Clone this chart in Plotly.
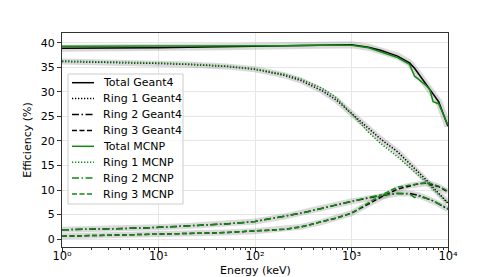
import plotly.graph_objects as go

# ---- data ----
e_total_g4 = [1, 2, 5, 10, 20, 50, 100, 200, 500, 1000, 1500, 2000, 3000, 4000, 4500, 5000, 6000, 7000, 8000, 10000]
total_g4 = [38.9, 38.9, 39.0, 39.0, 39.1, 39.2, 39.3, 39.3, 39.4, 39.6, 39.1, 38.5, 37.3, 35.9, 34.8, 33.5, 31.3, 29.6, 28.0, 23.0]

e_total_mcnp = [1, 2, 5, 10, 20, 50, 100, 200, 500, 1000, 1500, 2000, 3000, 4000, 4500, 5000, 6000, 6500, 7000, 8000, 10000]
total_mcnp = [39.3, 39.3, 39.3, 39.3, 39.3, 39.3, 39.4, 39.4, 39.5, 39.5, 39.0, 38.2, 37.0, 35.6, 33.2, 32.5, 31.2, 30.4, 28.0, 27.6, 23.2]

e_ring = [1, 2, 5, 10, 20, 50, 100, 200, 300, 500, 700, 1000, 1500, 2000, 3000, 4000, 4500, 5000, 6000, 7000, 8000, 10000]
ring1_g4 = [36.2, 36.1, 35.9, 35.8, 35.6, 35.2, 34.6, 33.4, 32.3, 30.2, 28.3, 25.6, 22.5, 20.4, 17.8, 15.4, 14.4, 13.4, 12.0, 10.5, 9.3, 7.4]
ring1_mcnp = [36.3, 36.2, 36.0, 35.9, 35.7, 35.3, 34.7, 33.6, 32.6, 30.7, 28.8, 25.5, 21.8, 19.5, 16.8, 14.6, 13.7, 12.9, 11.6, 10.2, 9.0, 7.2]
ring2_g4 = [1.9, 2.0, 2.2, 2.4, 2.7, 3.1, 3.6, 4.6, 5.3, 6.3, 7.0, 7.7, 8.4, 8.9, 9.3, 9.3, 9.1, 8.9, 8.3, 7.8, 7.2, 6.1]
ring2_mcnp = [1.9, 2.0, 2.2, 2.4, 2.7, 3.1, 3.6, 4.6, 5.3, 6.3, 7.0, 7.7, 8.5, 9.0, 9.3, 9.2, 8.5, 8.7, 8.3, 7.8, 7.2, 6.2]
ring3_g4 = [0.6, 0.7, 0.85, 1.0, 1.15, 1.35, 1.6, 2.0, 2.5, 3.5, 4.3, 5.3, 7.2, 8.5, 10.2, 10.9, 11.1, 11.3, 11.4, 11.1, 10.7, 9.6]
ring3_mcnp = [0.6, 0.7, 0.85, 1.0, 1.15, 1.35, 1.6, 2.0, 2.5, 3.5, 4.3, 5.3, 7.4, 8.9, 10.6, 11.0, 11.2, 11.3, 11.4, 11.2, 10.8, 9.8]

x_tickvals = [1, 10, 100, 1000, 10000]
x_ticktext = ["10⁰", "10¹", "10²", "10³", "10⁴"]
x_minor_tickvals = [m * d for d in [1, 10, 100, 1000] for m in range(2, 10)]
y_tickvals = [0, 5, 10, 15, 20, 25, 30, 35, 40]

BLACK = "#000000"
GREEN = "#108a10"
BAND = "rgba(120,120,120,0.28)"
DOT = "1.3px,1.7px"
DASH = "5px,2.5px"
DASHDOT = "7px,2.5px,1.5px,2.5px"

fig = go.Figure()

# uncertainty-like gray bands under Geant4 curves
for xs, ys, w in [(e_total_g4, total_g4, 7), (e_ring, ring1_g4, 6), (e_ring, ring2_g4, 6), (e_ring, ring3_g4, 6)]:
    fig.add_trace(go.Scatter(x=xs, y=ys, mode="lines", line=dict(color=BAND, width=w),
                             showlegend=False, hoverinfo="skip"))

series = [
    ("Total Geant4", e_total_g4, total_g4, BLACK, "solid"),
    ("Ring 1 Geant4", e_ring, ring1_g4, BLACK, DOT),
    ("Ring 2 Geant4", e_ring, ring2_g4, BLACK, DASHDOT),
    ("Ring 3 Geant4", e_ring, ring3_g4, BLACK, DASH),
    ("Total MCNP", e_total_mcnp, total_mcnp, GREEN, "solid"),
    ("Ring 1 MCNP", e_ring, ring1_mcnp, GREEN, DOT),
    ("Ring 2 MCNP", e_ring, ring2_mcnp, GREEN, DASHDOT),
    ("Ring 3 MCNP", e_ring, ring3_mcnp, GREEN, DASH),
]
for name, xs, ys, c, d in series:
    fig.add_trace(go.Scatter(x=xs, y=ys, mode="lines", name=name, showlegend=False,
                             line=dict(color=c, width=1.5, dash=d)))

# ---- compact matplotlib-style legend (drawn in axis-domain coordinates) ----
L, R, T, B = 62, 448, 33, 247          # plot area in pixels
def dx(px): return (px - L) / (R - L)
def dy(py): return (B - py) / (B - T)

shapes = [dict(type="rect", xref="x domain", yref="y domain", layer="above",
               x0=dx(68), x1=dx(183), y0=dy(204), y1=dy(74),
               fillcolor="rgba(255,255,255,0.82)", line=dict(color="#cccccc", width=1))]
font = dict(family="DejaVu Sans", size=11, color="#000000")
annotations = [
    dict(xref="x domain", yref="y domain", x=0.5, y=dy(270), text="Energy (keV)",
         showarrow=False, xanchor="center", yanchor="middle", font=font),
]
for i, (name, xs, ys, c, d) in enumerate(series):
    yc = 82.7 + 15.9 * i
    shapes.append(dict(type="line", xref="x domain", yref="y domain", layer="above",
                       x0=dx(72), x1=dx(94), y0=dy(yc), y1=dy(yc),
                       line=dict(color=c, width=1.5, dash=d)))
    annotations.append(dict(xref="x domain", yref="y domain", x=dx(101), y=dy(yc),
                            text=name, showarrow=False, xanchor="left", yanchor="middle",
                            font=font))

fig.update_layout(
    width=498, height=277,
    margin=dict(l=L, r=498 - R, t=T, b=277 - B),
    paper_bgcolor="white", plot_bgcolor="white",
    font=font,
    showlegend=False,
    shapes=shapes,
    annotations=annotations,
)
fig.update_xaxes(
    type="log", range=[0, 4], automargin=False,
    tickmode="array", tickvals=x_tickvals, ticktext=x_ticktext,
    ticks="outside", ticklen=4, tickcolor="#333", ticklabelstandoff=-6,
    tickfont=dict(family="DejaVu Sans", size=11.5, color="#000"),
    minor=dict(tickmode="array", tickvals=x_minor_tickvals, ticks="outside",
               ticklen=2, tickcolor="#333", showgrid=False),
    showgrid=True, gridcolor="#e6e6e6", gridwidth=1,
    showline=True, linecolor="#333", linewidth=1, mirror=True,
    zeroline=False,
)
fig.update_yaxes(
    range=[-1.6, 42], tickvals=y_tickvals, automargin=False,
    ticks="outside", ticklen=4, tickcolor="#333",
    showgrid=True, gridcolor="#e6e6e6", gridwidth=1,
    showline=True, linecolor="#333", linewidth=1, mirror=True,
    title=dict(text="Efficiency (%)", standoff=6, font=font),
    zeroline=False,
)

fig.write_html("out.html", config={"displayModeBar": False},
               post_script="document.body.style.margin='0px';document.body.style.overflow='hidden';")
